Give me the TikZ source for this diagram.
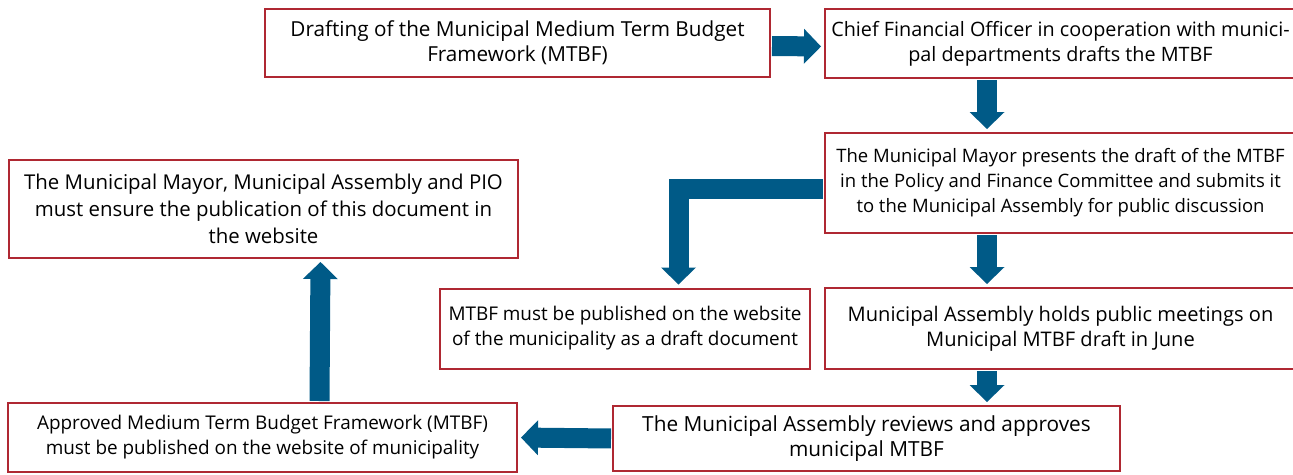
\documentclass[tikz,border=0pt]{standalone}
\usepackage{fontspec}
\setmainfont{Open Sans}
\usetikzlibrary{arrows.meta}
\definecolor{boxred}{RGB}{175,40,50}
\definecolor{flowblue}{RGB}{0,90,135}
\newcommand{\boxfont}[1]{\fontsize{#1}{25}\selectfont}

\begin{document}
\begin{tikzpicture}[x=1pt,y=-1pt,
    main node/.style={draw=boxred,line width=2pt,fill=white,align=center,
      inner sep=0pt,font=\boxfont{19.5}},
    flow/.style={draw=flowblue,line width=20pt,
      -{Triangle[width=35pt,length=17pt,line width=0pt]},shorten >=3pt}]
    \useasboundingbox (0,0) rectangle (1293,474);
    \node[main node,minimum width=505pt,minimum height=68pt,font=\boxfont{20.7}] (1) at (517.5,43) {Drafting of the Municipal Medium Term Budget\\Framework (MTBF)};
    \node[main node,minimum width=471pt,minimum height=69pt,font=\boxfont{19.8}] (2) at (1060.5,43.5) {Chief Financial Officer in cooperation with munici-\\pal departments drafts the MTBF};
    \node[main node,minimum width=471pt,minimum height=100pt,font=\boxfont{18.5}] (3) at (1060.5,183) {The Municipal Mayor presents the draft of the MTBF\\in the Policy and Finance Committee and submits it\\to the Municipal Assembly for public discussion};
    \node[main node,minimum width=370pt,minimum height=80pt,font=\boxfont{18.9}] (4) at (625,328.5) {MTBF must be published on the website\\of the municipality as a draft document};
    \node[main node,minimum width=471pt,minimum height=81pt,font=\boxfont{20.1}] (5) at (1060.5,328.5) {Municipal Assembly holds public meetings on\\Municipal MTBF draft in June};
    \node[main node,minimum width=507pt,minimum height=65pt,font=\boxfont{20.8}] (6) at (866.5,438.5) {The Municipal Assembly reviews and approves\\municipal MTBF};
    \node[main node,minimum width=509pt,minimum height=69pt,font=\boxfont{18.9}] (7) at (262.5,437.5) {Approved Medium Term Budget Framework (MTBF)\\must be published on the website of municipality};
    \node[main node,minimum width=509pt,minimum height=98pt,font=\fontsize{20.4}{27}\selectfont] (8) at (263.5,209) {The Municipal Mayor, Municipal Assembly and PIO\\must ensure the publication of this document in\\the website};

    \draw[flow,shorten <=1pt] ([yshift=-3pt]1.east) -- ([yshift=-3pt]2.west);
    \draw[flow,shorten <=1pt] ([xshift=-73.5pt]2.south) -- ([xshift=-73.5pt]3.north);
    \draw[flow,shorten <=1pt] ([yshift=-5.5pt]3.west) -| ([xshift=53.5pt]4.north);
    \draw[flow,shorten <=1pt] ([xshift=-73.5pt]3.south) -- ([xshift=-73.5pt]5.north);
    \draw[flow,shorten <=1pt] ([xshift=-73.5pt]5.south) -- ([xshift=120.5pt]6.north);
    \draw[flow,shorten <=1pt] (6.west) -- (7.east);
    \draw[flow,shorten <=1pt] ([xshift=57pt]7.north) -- ([xshift=57pt]8.south);
  \end{tikzpicture}
\end{document}
